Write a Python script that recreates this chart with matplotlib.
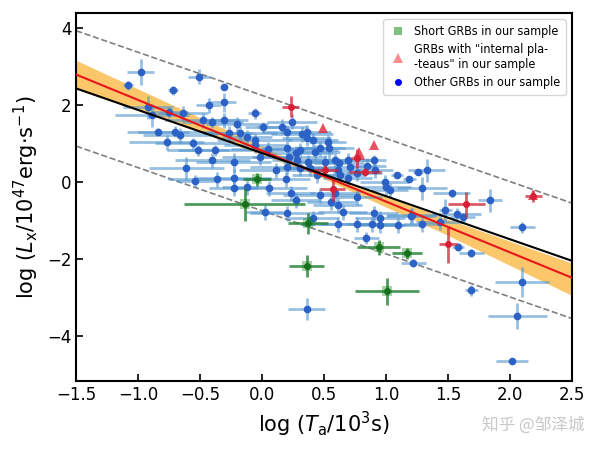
import numpy as np
import matplotlib.pyplot as plt
from matplotlib.lines import Line2D
from matplotlib.font_manager import FontProperties

# Short GRBs (green)
short_x = [-0.04, -0.14, 0.37, 0.36, 0.94, 1.17, 1.01]
short_y = [0.08, -0.57, -1.07, -2.18, -1.69, -1.85, -2.83]
short_xerr = [0.11, 0.49, 0.16, 0.14, 0.17, 0.12, 0.26]
short_yerr = [0.17, 0.43, 0.28, 0.28, 0.20, 0.15, 0.35]

# GRBs with internal plateaus (red)
plat_x = [0.23, 0.77, 0.83, 0.51, 0.57, 1.65, 1.50, 2.19]
plat_y = [1.97, 0.62, 0.26, 0.31, -0.18, -0.57, -1.61, -0.36]
plat_xerr = [0.07, 0.05, 0.13, 0.10, 0.10, 0.15, 0.07, 0.07]
plat_yerr = [0.28, 0.25, 0.10, 0.15, 0.30, 0.32, 0.48, 0.15]
tri_x = [0.49, 0.90, 0.78, 2.19]
tri_y = [1.40, 0.96, 0.78, -0.33]

# Other GRBs (blue)
other_x = [-0.98, -1.08, -0.72, -0.51, -0.31, -0.31, -0.43, -0.06, -0.92, -0.89,
           -0.75, -0.64, -0.48, -0.40, -0.31, -0.20, -0.84, -0.70, -0.66, -0.77,
           -0.56, -0.52, -0.38, -0.40, -0.23, -0.61, -0.54, -0.36, -0.23, -0.23,
           -0.12, -0.27, -0.18, -0.12, -0.06, 0.02, 0.20, 0.01, 0.16, 0.24,
           0.20, 0.32, 0.36, 0.36, 0.41, 0.53, 0.54, 0.47, 0.43, 0.31,
           0.27, 0.20, 0.05, -0.06, -0.02, 0.22, 0.28, 0.37, 0.51, 0.59,
           0.69, 0.62, 0.90, 0.85, 1.09, 1.19, 1.26, 1.33, 0.99, 1.00,
           1.03, 0.77, 0.69, 0.61, 0.63, 0.44, 0.39, 0.31, 0.20, 0.11,
           0.19, 0.06, 0.23, 0.27, 0.47, 0.56, 0.59, 0.61, 0.65, 0.77,
           0.61, 0.77, 0.89, 0.95, 0.90, 0.95, 1.10, 1.21, 1.29, 1.29,
           0.84, 1.22, 1.58, 1.69, 1.57, 1.84, 1.53, 1.48, 1.62, 1.20,
           2.10, 2.10, 2.06, 2.02, 1.69, 0.36, 0.41, 1.44, 0.71, 0.91]
other_y = [2.86, 2.52, 2.39, 2.75, 2.47, 2.08, 2.00, 1.79, 1.95, 1.74,
           1.82, 1.79, 1.61, 1.56, 1.61, 1.51, 1.32, 1.32, 1.22, 1.04,
           1.01, 0.83, 0.83, 0.57, 0.52, 0.36, 0.03, 0.08, 0.10, -0.16,
           -0.13, 1.27, 1.27, 1.17, 1.09, -0.78, -0.81, 1.43, 1.45, 1.58,
           1.30, 1.25, 1.30, 1.14, 1.09, 1.04, 0.88, 0.88, 0.78, 0.83,
           0.75, 0.88, 0.86, 0.96, 0.65, 0.65, 0.57, 0.52, 0.52, 0.57,
           0.57, 0.49, 0.57, 0.42, 0.18, 0.08, 0.26, 0.31, 0.00, -0.13,
           -0.21, 0.23, 0.10, 0.31, 0.18, 0.18, 0.36, 0.36, 0.39, 0.31,
           0.08, -0.16, -0.29, -0.47, -0.34, -0.52, -0.29, -0.60, -0.78, -0.39,
           -1.09, -1.09, -1.09, -1.12, -0.81, -0.94, -1.12, -0.86, -1.09, -0.16,
           -1.45, -2.10, -1.69, -1.84, -0.83, -0.47, -0.29, -0.73, -0.91, -0.88,
           -1.17, -2.60, -3.48, -4.65, -2.81, -3.30, -0.94, -1.04, 0.39, 0.31]
other_xerr = [0.11, 0.04, 0.04, 0.09, 0.03, 0.10, 0.10, 0.05, 0.20, 0.30,
              0.15, 0.20, 0.30, 0.25, 0.20, 0.25, 0.25, 0.30, 0.30, 0.30,
              0.30, 0.25, 0.30, 0.30, 0.30, 0.30, 0.15, 0.40, 0.30, 0.20,
              0.20, 0.20, 0.30, 0.20, 0.30, 0.15, 0.30, 0.15, 0.20, 0.20,
              0.20, 0.25, 0.20, 0.20, 0.20, 0.15, 0.20, 0.20, 0.20, 0.30,
              0.30, 0.20, 0.30, 0.25, 0.30, 0.30, 0.20, 0.20, 0.20, 0.20,
              0.20, 0.20, 0.10, 0.15, 0.05, 0.05, 0.04, 0.15, 0.20, 0.20,
              0.15, 0.20, 0.20, 0.20, 0.20, 0.20, 0.20, 0.20, 0.30, 0.30,
              0.20, 0.30, 0.20, 0.20, 0.30, 0.20, 0.20, 0.20, 0.20, 0.20,
              0.30, 0.30, 0.20, 0.20, 0.20, 0.20, 0.20, 0.20, 0.15, 0.20,
              0.10, 0.10, 0.05, 0.10, 0.20, 0.10, 0.15, 0.05, 0.10, 0.20,
              0.10, 0.22, 0.24, 0.13, 0.05, 0.15, 0.20, 0.20, 0.20, 0.15]
other_yerr = [0.34, 0.12, 0.12, 0.20, 0.05, 0.25, 0.20, 0.15, 0.30, 0.30,
              0.15, 0.20, 0.20, 0.15, 0.20, 0.20, 0.10, 0.15, 0.20, 0.20,
              0.15, 0.15, 0.15, 0.20, 0.25, 0.30, 0.15, 0.20, 0.25, 0.20,
              0.20, 0.20, 0.20, 0.20, 0.20, 0.20, 0.20, 0.15, 0.20, 0.20,
              0.20, 0.20, 0.20, 0.20, 0.20, 0.20, 0.30, 0.20, 0.20, 0.20,
              0.20, 0.20, 0.20, 0.20, 0.20, 0.20, 0.20, 0.20, 0.20, 0.20,
              0.20, 0.15, 0.15, 0.20, 0.05, 0.05, 0.05, 0.30, 0.20, 0.20,
              0.20, 0.20, 0.20, 0.20, 0.20, 0.20, 0.20, 0.20, 0.20, 0.20,
              0.20, 0.20, 0.20, 0.20, 0.20, 0.20, 0.20, 0.20, 0.20, 0.20,
              0.20, 0.20, 0.20, 0.20, 0.20, 0.20, 0.20, 0.20, 0.20, 0.30,
              0.15, 0.10, 0.10, 0.10, 0.15, 0.30, 0.10, 0.30, 0.10, 0.20,
              0.15, 0.39, 0.34, 0.05, 0.15, 0.29, 0.20, 0.20, 0.20, 0.20]

# fitted relations
line_x = [-1.5, 2.5]
black_y = [2.44, -2.04]     # y = 0.76 - 1.12 x
red_y = [2.80, -2.48]       # y = 0.82 - 1.32 x
scatter_width = 1.5         # dashed lines at +-1.5 around the black line
band_x = [-1.5, -0.5, 0.4, 1.5, 2.5]
band_lo = [2.42, 1.30, 0.24, -1.38, -2.94]
band_hi = [3.17, 1.68, 0.34, -0.96, -2.10]

fig = plt.figure(figsize=(6, 4.5), dpi=100)
ax = fig.add_axes([0.127, 0.153, 0.826, 0.818])

ax.fill_between(band_x, band_lo, band_hi, color="#fcc66a", lw=0, zorder=1)
ax.plot(line_x, [v + scatter_width for v in black_y], "--", color="gray", lw=1.2, zorder=2)
ax.plot(line_x, [v - scatter_width for v in black_y], "--", color="gray", lw=1.2, zorder=2)

ax.errorbar(other_x, other_y, xerr=other_xerr, yerr=other_yerr, fmt="o", ms=4.5,
            color="#2c62c6", ecolor=(0.33, 0.59, 0.81, 0.6), elinewidth=2, zorder=3)
ax.errorbar(short_x, short_y, xerr=short_xerr, yerr=short_yerr, fmt="o", ms=4,
            color="#16701f", ecolor=(0.12, 0.50, 0.20, 0.8), elinewidth=2, zorder=4)
ax.plot(short_x, short_y, "s", ms=7, color="green", alpha=0.35, mew=0, zorder=4)
ax.errorbar(plat_x, plat_y, xerr=plat_xerr, yerr=plat_yerr, fmt="o", ms=4,
            color="#d81f35", ecolor=(0.80, 0.15, 0.22, 0.75), elinewidth=2, zorder=5)
ax.plot(tri_x, tri_y, "^", ms=6.5, color="#e02838", alpha=0.8, mew=0, zorder=5)

ax.plot(line_x, red_y, color="#e8151b", lw=1.5, zorder=6)
ax.plot(line_x, black_y, color="black", lw=1.5, zorder=6)

ax.set_xlim(-1.5, 2.5)
ax.set_ylim(-5.17, 4.4)
ax.set_xticks([-1.5, -1.0, -0.5, 0.0, 0.5, 1.0, 1.5, 2.0, 2.5])
ax.set_yticks([-4, -2, 0, 2, 4])
ax.tick_params(direction="in", labelsize=12, width=1.2, length=5)
for sp in ax.spines.values():
    sp.set_linewidth(1.5)

ax.set_xlabel(r"log ($T_{\rm a}/10^3$s)", fontsize=15)
ax.set_ylabel(r"log ($L_{\rm x}/10^{47}$erg$\cdot$s$^{-1}$)", fontsize=15)

handles = [
    Line2D([], [], ls="none", marker="s", ms=6, color="green", alpha=0.5, mew=0),
    Line2D([], [], ls="none", marker="^", ms=7, color="red", alpha=0.45, mew=0),
    Line2D([], [], ls="none", marker="o", ms=4, color="blue"),
]
labels = ["Short GRBs in our sample",
          'GRBs with "internal pla-\n-teaus" in our sample',
          "Other GRBs in our sample"]
legend_font = FontProperties(family="DejaVu Sans", stretch="condensed", size=9)
ax.legend(handles, labels, loc="upper right", prop=legend_font, handletextpad=0.5,
          borderpad=0.45, labelspacing=0.4, handlelength=1.5)

fig.text(0.975, 0.035, "知乎 @邹泽城", ha="right", va="bottom", fontsize=12,
         color="#c8c8c8", family=["Noto Sans CJK SC", "DejaVu Sans"])

fig.savefig("out.png", dpi=100)
